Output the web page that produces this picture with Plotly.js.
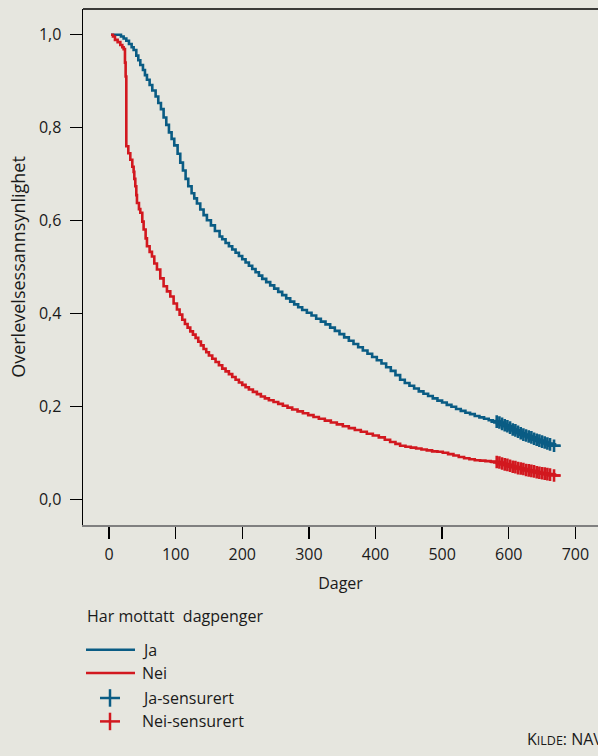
<!DOCTYPE html>
<html>
<head>
<meta charset="utf-8">
<script src="https://cdn.plot.ly/plotly-3.0.1.min.js"></script>
<style>
html,body{margin:0;padding:0;background:#e6e6df;}
#chart{width:598px;height:756px;}
</style>
</head>
<body>
<div id="chart"></div>
<script>
// ---- data ----
const seriesNames = ['Ja', 'Nei'];
const censorNames = ['Ja-sensurert', 'Nei-sensurert'];
const legendTitle = 'Har mottatt  dagpenger';
const xTitle = 'Dager';
const yTitle = 'Overlevelsessannsynlighet';
const xTicks = [0, 100, 200, 300, 400, 500, 600, 700];
const yTicks = [0, 0.2, 0.4, 0.6, 0.8, 1.0];

// Ja: step curve (days, survival)
const jaDays = [3,14,18,22,26,30,34,37,41,44,47,51,54,57,61,65,70,74,78,82,86,90,94,98,103,107,111,115,119,124,128,132,137,142,147,153,159,166,170,175,180,185,190,195,200,205,210,215,220,225,230,236,242,248,254,260,266,272,278,284,290,297,304,311,318,325,332,339,346,353,360,367,374,381,388,395,402,409,416,423,430,437,444,451,458,465,472,479,486,493,500,507,514,521,528,535,542,549,556,563,570,576];
const jaSurv = [1.0,1.0,0.996,0.992,0.987,0.980,0.973,0.967,0.955,0.945,0.935,0.924,0.913,0.903,0.892,0.880,0.867,0.853,0.840,0.822,0.806,0.790,0.776,0.762,0.744,0.725,0.708,0.690,0.674,0.659,0.648,0.637,0.624,0.612,0.601,0.590,0.578,0.566,0.560,0.552,0.545,0.538,0.531,0.524,0.517,0.510,0.503,0.496,0.489,0.482,0.475,0.468,0.461,0.454,0.447,0.440,0.433,0.426,0.420,0.414,0.408,0.402,0.396,0.389,0.383,0.377,0.370,0.363,0.356,0.349,0.342,0.335,0.328,0.321,0.314,0.307,0.300,0.293,0.285,0.277,0.268,0.258,0.251,0.245,0.239,0.233,0.228,0.223,0.218,0.213,0.209,0.204,0.200,0.195,0.191,0.187,0.184,0.180,0.177,0.174,0.171,0.169];

// Nei: step curve (days, survival)
const neiDays = [3,6,9,13,17,20,22,24,25,26,29,32,35,37,38,39.5,41,42,45,47,50,52,55,57,61,64.5,68,72,77,82,87,92,97,102,106,110,114,118,122,126,130,134,138,142,146,150,155,160,165,170,175,180,185,190,195,200,205,210,216,222,228,234,240,247,254,261,268,275,283,291,299,307,315,324,333,342,351,360,369,378,387,396,405,414,422,430,437,445,453,461,469,477,485,493,501,509,517,525,533,541,549,557,565,573];
const neiSurv = [1.0,0.996,0.989,0.984,0.978,0.973,0.969,0.940,0.910,0.760,0.745,0.731,0.716,0.705,0.690,0.674,0.655,0.638,0.625,0.617,0.598,0.581,0.562,0.545,0.533,0.523,0.508,0.495,0.476,0.459,0.448,0.437,0.422,0.409,0.398,0.387,0.378,0.370,0.362,0.355,0.348,0.340,0.332,0.324,0.317,0.310,0.303,0.296,0.289,0.282,0.276,0.270,0.264,0.258,0.252,0.247,0.242,0.237,0.232,0.227,0.222,0.218,0.214,0.210,0.206,0.202,0.198,0.194,0.190,0.186,0.182,0.178,0.174,0.170,0.166,0.162,0.158,0.154,0.150,0.146,0.142,0.138,0.134,0.129,0.124,0.120,0.116,0.114,0.112,0.110,0.108,0.106,0.104,0.103,0.101,0.098,0.095,0.092,0.089,0.087,0.085,0.084,0.083,0.082];

// censored observations (days, survival at censoring)
const censorDays = [582,586,590,594,598,602,606,610,614,618,622,626,630,634,638,642,646,650,654,658,662,668];
const jaCensorSurv = [0.168,0.166,0.163,0.160,0.158,0.155,0.151,0.149,0.146,0.143,0.140,0.138,0.136,0.134,0.131,0.129,0.127,0.125,0.123,0.121,0.119,0.116];
const neiCensorSurv = [0.081,0.080,0.078,0.076,0.075,0.073,0.071,0.070,0.068,0.067,0.066,0.064,0.063,0.062,0.061,0.059,0.058,0.057,0.056,0.055,0.054,0.052];
const lastFollowUp = 678;

// ---- styles ----
const BLUE = '#0a5c84';
const RED = '#d2181f';
const BG = '#e6e6df';
const FONT = 'Open Sans, Noto Sans, sans-serif';
const FS = 16;

function curve(days, surv, cDays, cSurv) {
  const x = days.concat(cDays, [lastFollowUp]);
  const y = surv.concat(cSurv, [cSurv[cSurv.length - 1]]);
  return {x: x, y: y};
}
const ja = curve(jaDays, jaSurv, censorDays, jaCensorSurv);
const nei = curve(neiDays, neiSurv, censorDays, neiCensorSurv);

const traces = [
  {x: ja.x, y: ja.y, name: seriesNames[0], type: 'scatter', mode: 'lines',
   line: {color: BLUE, width: 2.6, shape: 'hv'}},
  {x: nei.x, y: nei.y, name: seriesNames[1], type: 'scatter', mode: 'lines',
   line: {color: RED, width: 2.6, shape: 'hv'}},
  {x: censorDays, y: jaCensorSurv, name: censorNames[0], type: 'scatter', mode: 'markers',
   marker: {symbol: 'cross-thin', size: 9, color: BLUE, line: {color: BLUE, width: 2.6}}},
  {x: censorDays, y: neiCensorSurv, name: censorNames[1], type: 'scatter', mode: 'markers',
   marker: {symbol: 'cross-thin', size: 9, color: RED, line: {color: RED, width: 2.6}}}
];

// pixel -> paper helpers for the hand-placed legend
const L = 83, R = 598, T = 9.3, B = 525.3;
const px = v => (v - L) / (R - L);
const py = v => (B - v) / (B - T);

const shapes = [
  {type: 'line', xref: 'paper', yref: 'paper', x0: 0, x1: 1, y0: 1, y1: 1,
   line: {color: '#000', width: 1.6}},
  // legend lines
  {type: 'line', xref: 'paper', yref: 'paper', x0: px(86), x1: px(135), y0: py(650), y1: py(650),
   line: {color: BLUE, width: 2.5}},
  {type: 'line', xref: 'paper', yref: 'paper', x0: px(86), x1: px(135), y0: py(673.3), y1: py(673.3),
   line: {color: RED, width: 2.5}},
  // legend crosses
  {type: 'line', xref: 'paper', yref: 'paper', x0: px(100), x1: px(120), y0: py(698.3), y1: py(698.3),
   line: {color: BLUE, width: 2.5}},
  {type: 'line', xref: 'paper', yref: 'paper', x0: px(110), x1: px(110), y0: py(689.5), y1: py(707),
   line: {color: BLUE, width: 2.5}},
  {type: 'line', xref: 'paper', yref: 'paper', x0: px(100), x1: px(120), y0: py(721.7), y1: py(721.7),
   line: {color: RED, width: 2.5}},
  {type: 'line', xref: 'paper', yref: 'paper', x0: px(110), x1: px(110), y0: py(713), y1: py(730.5),
   line: {color: RED, width: 2.5}}
];

function txt(text, x, y) {
  return {text: text, xref: 'paper', yref: 'paper', x: px(x), y: py(y),
          xanchor: 'left', yanchor: 'middle', showarrow: false,
          font: {family: FONT, size: FS, color: '#1a1a1a'}};
}
const annotations = [
  txt(legendTitle.replace('  ', ' &nbsp;'), 85, 616.7),
  txt(seriesNames[0], 139.5, 650),
  txt(seriesNames[1], 139.5, 673.3),
  txt(censorNames[0], 139.5, 698.3),
  txt(censorNames[1], 139.5, 721.7),
  txt('K<span style="font-size:12.5px">ILDE</span>: NAV', 525, 739)
];

const layout = {
  width: 598, height: 756,
  margin: {l: L, r: 0, t: T, b: 756 - B, pad: 0},
  paper_bgcolor: BG, plot_bgcolor: BG,
  separators: ', ',
  showlegend: false,
  font: {family: FONT, size: FS, color: '#1a1a1a'},
  xaxis: {
    range: [-39, 734], tickvals: xTicks, ticktext: xTicks.map(String),
    showline: true, linecolor: '#808080', linewidth: 2,
    ticks: 'outside', ticklen: 12, tickwidth: 1.3, tickcolor: '#000',
    ticklabelstandoff: 2,
    showgrid: false, zeroline: false,
    title: {text: xTitle, standoff: 14, font: {family: FONT, size: FS}}
  },
  yaxis: {
    range: [-0.0544, 1.0553], tickvals: yTicks, tickformat: '.1f',
    showline: true, linecolor: '#000', linewidth: 1.4,
    ticks: 'outside', ticklen: 12, tickwidth: 1.3, tickcolor: '#000',
    ticklabelstandoff: 5,
    showgrid: false, zeroline: false,
    title: {text: yTitle, standoff: 8, font: {family: FONT, size: 18}}
  },
  shapes: shapes,
  annotations: annotations
};

Plotly.newPlot('chart', traces, layout, {displayModeBar: false, staticPlot: true});
</script>
</body>
</html>
